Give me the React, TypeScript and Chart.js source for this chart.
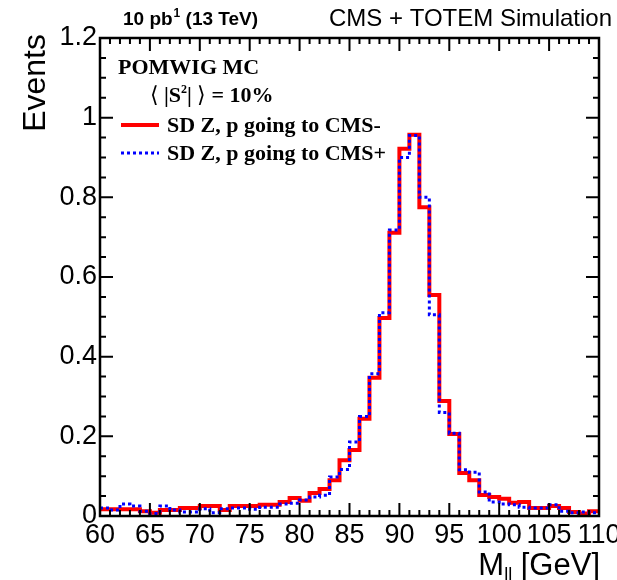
import React, { useEffect, useRef } from "react";
import { Chart, registerables } from "chart.js";

Chart.register(...registerables);

// ---- data ----
const binEdgesStart = 60;
const binWidth = 1;
const xTickValues = [60, 65, 70, 75, 80, 85, 90, 95, 100, 105, 110];
const yTickValues = [0, 0.2, 0.4, 0.6, 0.8, 1, 1.2];
const yTickLabels = ["0", "0.2", "0.4", "0.6", "0.8", "1", "1.2"];

// SD Z, p going to CMS- (red, solid)
const sdzCmsMinus = [
  0.017, 0.017, 0.017, 0.017, 0.012, 0.008, 0.015, 0.015, 0.02, 0.02,
  0.025, 0.025, 0.015, 0.025, 0.025, 0.025, 0.028, 0.028, 0.035, 0.045,
  0.038, 0.058, 0.068, 0.09, 0.14, 0.166, 0.244, 0.347, 0.497, 0.711,
  0.922, 0.957, 0.775, 0.555, 0.289, 0.206, 0.108, 0.09, 0.053, 0.048,
  0.043, 0.033, 0.035, 0.02, 0.02, 0.025, 0.02, 0.01, 0.006, 0.012,
];
// SD Z, p going to CMS+ (blue, dotted)
const sdzCmsPlus = [
  0.02, 0.015, 0.03, 0.025, 0.012, 0.006, 0.025, 0.015, 0.01, 0.01,
  0.018, 0.008, 0.018, 0.02, 0.02, 0.017, 0.022, 0.022, 0.03, 0.032,
  0.04, 0.048, 0.052, 0.098, 0.117, 0.186, 0.25, 0.357, 0.51, 0.718,
  0.9, 0.955, 0.8, 0.505, 0.26, 0.208, 0.116, 0.11, 0.06, 0.035,
  0.03, 0.028, 0.022, 0.02, 0.02, 0.028, 0.012, 0.008, 0.01, 0.008,
];

const SANS = "'Liberation Sans', Arial, Helvetica, sans-serif";
const SERIF = "'Liberation Serif', 'Times New Roman', serif";

function toSteps(values: number[]) {
  const pts = values.map((v, i) => ({ x: binEdgesStart + i * binWidth, y: v }));
  pts.push({ x: binEdgesStart + values.length * binWidth, y: values[values.length - 1] });
  return pts;
}

const framePlugin = {
  id: "rootFrame",
  afterDatasetsDraw(chart: any) {
    const { ctx, chartArea: a, scales } = chart;
    const xs = scales.x;
    const ys = scales.y;
    ctx.save();
    ctx.strokeStyle = "#000";
    ctx.lineWidth = 2;
    ctx.beginPath();
    for (let v = 60; v <= 110; v += 1) {
      const px = xs.getPixelForValue(v);
      const len = v % 5 === 0 ? 13 : 6;
      ctx.moveTo(px, a.bottom);
      ctx.lineTo(px, a.bottom - len);
      ctx.moveTo(px, a.top);
      ctx.lineTo(px, a.top + len);
    }
    for (let k = 0; k <= 24; k++) {
      const v = k * 0.05;
      const py = ys.getPixelForValue(v);
      const len = k % 4 === 0 ? 13 : 6;
      ctx.moveTo(a.left, py);
      ctx.lineTo(a.left + len, py);
      ctx.moveTo(a.right, py);
      ctx.lineTo(a.right - len, py);
    }
    ctx.stroke();
    ctx.lineWidth = 2.5;
    ctx.strokeRect(a.left, a.top, a.right - a.left, a.bottom - a.top);
    ctx.restore();
  },
  afterDraw(chart: any) {
    const { ctx } = chart;
    ctx.save();
    ctx.fillStyle = "#000";
    ctx.textBaseline = "alphabetic";

    // header left
    ctx.textAlign = "left";
    let x = 123;
    ctx.font = `bold 19px ${SANS}`;
    ctx.fillText("10 pb", x, 25);
    x += ctx.measureText("10 pb").width + 1;
    ctx.font = `bold 12px ${SANS}`;
    ctx.fillText("1", x, 17);
    x += ctx.measureText("1").width;
    ctx.font = `bold 19px ${SANS}`;
    ctx.fillText(" (13 TeV)", x, 25);

    // header right
    ctx.font = `24px ${SANS}`;
    ctx.textAlign = "right";
    ctx.fillText("CMS + TOTEM Simulation", 612, 26);

    // y title
    ctx.save();
    ctx.translate(45, 34);
    ctx.rotate(-Math.PI / 2);
    ctx.font = `32px ${SANS}`;
    ctx.textAlign = "right";
    ctx.fillText("Events", 0, 0);
    ctx.restore();

    // x title
    ctx.textAlign = "left";
    ctx.font = `31px ${SANS}`;
    const wM = ctx.measureText("M").width;
    const wRest = ctx.measureText(" [GeV]").width;
    ctx.font = `18px ${SANS}`;
    const wSub = ctx.measureText("ll").width;
    let tx = 600 - (wM + wSub + wRest);
    ctx.font = `31px ${SANS}`;
    ctx.fillText("M", tx, 575);
    tx += wM;
    ctx.font = `18px ${SANS}`;
    ctx.fillText("ll", tx, 580);
    tx += wSub;
    ctx.font = `31px ${SANS}`;
    ctx.fillText(" [GeV]", tx, 575);

    // annotations
    ctx.font = `bold 22px ${SERIF}`;
    ctx.fillText("POMWIG MC", 118, 74);

    let sx = 150;
    ctx.font = `22px ${SERIF}`;
    ctx.fillText("\u27E8", sx, 102);
    sx += ctx.measureText("\u27E8").width + 5;
    ctx.font = `bold 22px ${SERIF}`;
    ctx.fillText("|S", sx, 102);
    sx += ctx.measureText("|S").width;
    ctx.font = `bold 12px ${SERIF}`;
    ctx.fillText("2", sx, 93);
    sx += ctx.measureText("2").width;
    ctx.font = `bold 22px ${SERIF}`;
    ctx.fillText("|", sx, 102);
    sx += ctx.measureText("|").width + 5;
    ctx.font = `22px ${SERIF}`;
    ctx.fillText("\u27E9", sx, 102);
    sx += ctx.measureText("\u27E9").width;
    ctx.font = `bold 22px ${SERIF}`;
    ctx.fillText(" = 10%", sx, 102);

    // legend
    ctx.lineCap = "butt";
    ctx.strokeStyle = "#ff0000";
    ctx.lineWidth = 4;
    ctx.beginPath();
    ctx.moveTo(121, 125);
    ctx.lineTo(159, 125);
    ctx.stroke();
    ctx.strokeStyle = "#0000ff";
    ctx.lineWidth = 3;
    ctx.setLineDash([3, 3]);
    ctx.beginPath();
    ctx.moveTo(121, 153);
    ctx.lineTo(159, 153);
    ctx.stroke();
    ctx.setLineDash([]);
    ctx.fillStyle = "#000";
    ctx.font = `bold 22px ${SERIF}`;
    ctx.fillText("SD Z, p going to CMS-", 167, 132);
    ctx.fillText("SD Z, p going to CMS+", 167, 160);

    ctx.restore();
  },
};

export default function App() {
  const ref = useRef<HTMLCanvasElement>(null);
  useEffect(() => {
    if (!ref.current) return;
    const chart = new Chart(ref.current, {
      type: "line",
      data: {
        datasets: [
          {
            label: "SD Z, p going to CMS+",
            data: toSteps(sdzCmsPlus),
            borderColor: "#0000ff",
            borderWidth: 3,
            borderDash: [3, 3],
            stepped: true,
            pointRadius: 0,
            fill: false,
            order: 0,
          },
          {
            label: "SD Z, p going to CMS-",
            data: toSteps(sdzCmsMinus),
            borderColor: "#ff0000",
            borderWidth: 4,
            stepped: true,
            pointRadius: 0,
            fill: false,
            order: 1,
          },
        ],
      },
      options: {
        responsive: false,
        animation: false,
        devicePixelRatio: 1,
        layout: { padding: { left: 0, top: 38, right: 18, bottom: 0 } },
        plugins: { legend: { display: false }, tooltip: { enabled: false } },
        scales: {
          x: {
            type: "linear",
            min: 60,
            max: 110,
            grid: { display: false, drawTicks: false },
            border: { display: false },
            afterBuildTicks: (s: any) => {
              s.ticks = xTickValues.map((v) => ({ value: v }));
            },
            ticks: {
              autoSkip: false,
              maxRotation: 0,
              padding: 3,
              color: "#000",
              font: { family: SANS, size: 27 },
              callback: (v: any) => String(v),
            },
            afterFit: (s: any) => {
              s.height = 64;
              s.paddingLeft = 0;
              s.paddingRight = 0;
            },
          },
          y: {
            type: "linear",
            min: 0,
            max: 1.2,
            grid: { display: false, drawTicks: false },
            border: { display: false },
            afterBuildTicks: (s: any) => {
              s.ticks = yTickValues.map((v) => ({ value: v }));
            },
            ticks: {
              padding: 3,
              color: "#000",
              font: { family: SANS, size: 27 },
              callback: (v: any) => {
                const i = yTickValues.findIndex((t) => Math.abs(t - v) < 1e-6);
                return i >= 0 ? yTickLabels[i] : "";
              },
            },
            afterFit: (s: any) => {
              s.width = 100;
              s.paddingTop = 0;
              s.paddingBottom = 0;
            },
          },
        },
      },
      plugins: [framePlugin],
    } as any);
    return () => chart.destroy();
  }, []);
  return (
    <div style={{ position: "absolute", left: 0, top: 0, width: 617, height: 580, background: "#fff" }}>
      <canvas ref={ref} width={617} height={580} />
    </div>
  );
}
